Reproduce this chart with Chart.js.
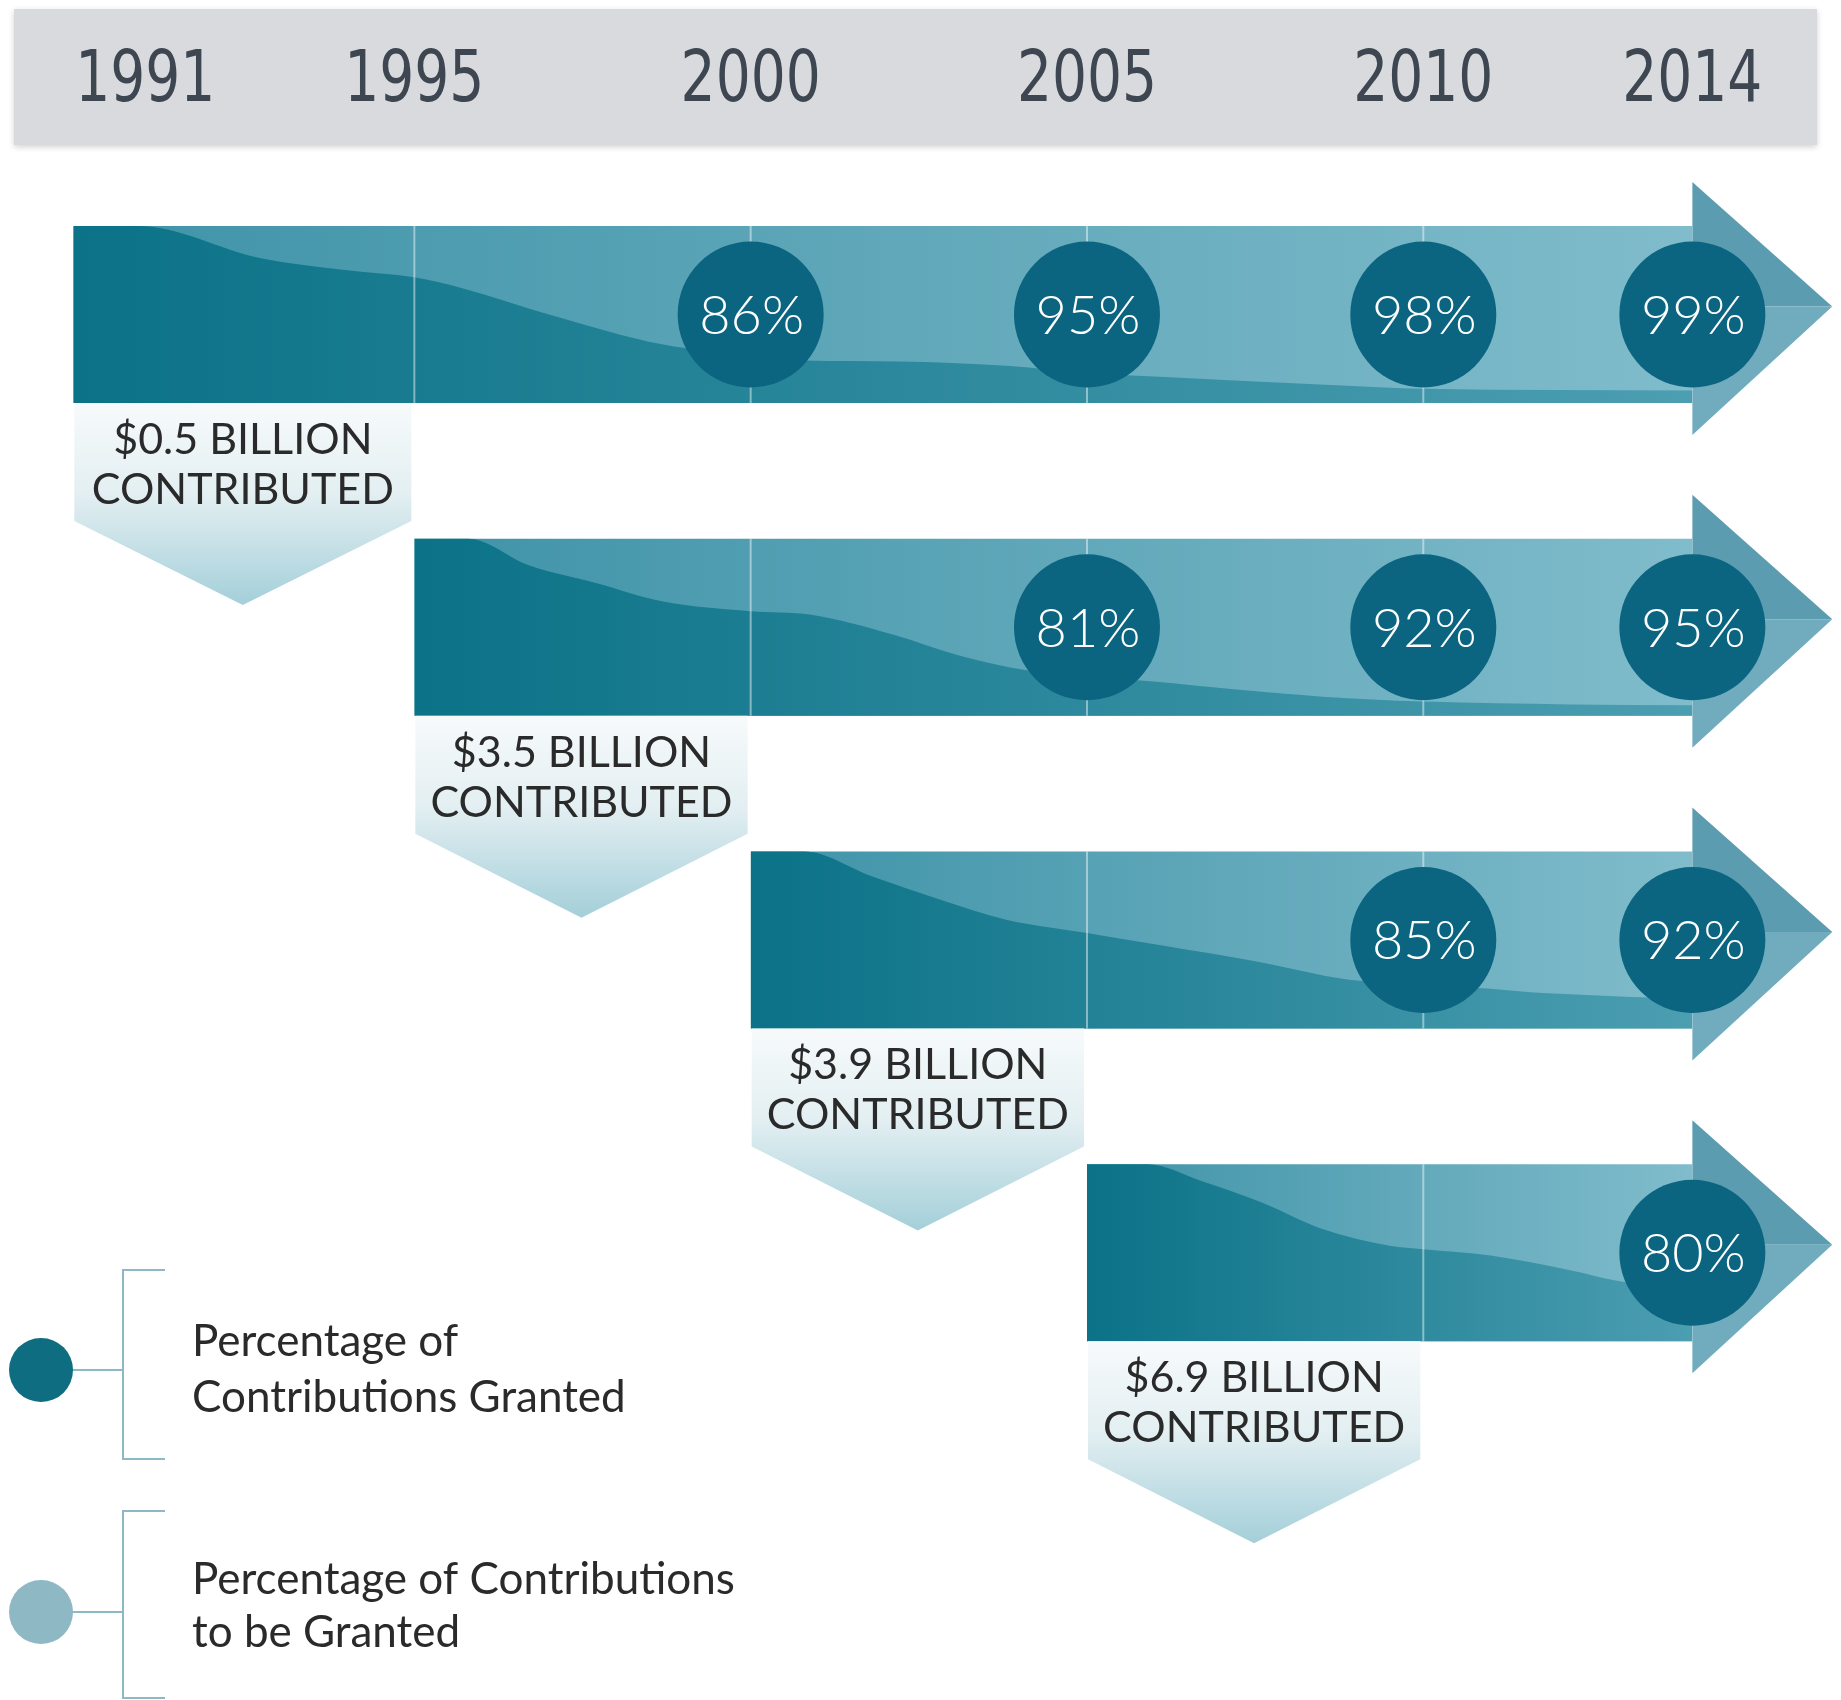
<!DOCTYPE html>
<html lang="en">
<head>
<meta charset="UTF-8">
<title>Contributions Granted by Cohort</title>
<script src="https://cdn.jsdelivr.net/npm/chart.js"></script>
<style>
  html, body { margin: 0; padding: 0; background: #ffffff; }
  canvas { display: block; }
</style>
</head>
<body>
<canvas id="grantChart" width="1841" height="1700"></canvas>
<script>
// timeline across the top
const yearTicks = [1991, 1995, 2000, 2005, 2010, 2014];
const gridYears = [1995, 2000, 2005, 2010];
const lastYear = 2014;

// one bar per contribution cohort
const cohortStart = [1989.93, 1995, 2000, 2005];
const labelEnd = [1995, 2000, 2005, 2010];
const contributed = ['$0.5 BILLION', '$3.5 BILLION', '$3.9 BILLION', '$6.9 BILLION'];

// dark band: share of the bar height still to be granted
const remainYears1991 = [1989.93, 1990.9, 1992.7, 1994.0, 1995, 1995.7, 1997.0, 1998.7, 2000, 2000.8, 2002.2, 2003.8, 2005, 2006, 2008.7, 2010, 2014];
const remain1991 = [100, 100, 82, 75, 71, 65, 50, 33, 27, 24, 23.5, 21, 17, 15, 10, 8, 7];
const remainYears1995 = [1995, 1995.8, 1996.7, 1997.7, 1998.7, 2000, 2000.9, 2002.1, 2003.1, 2003.9, 2005, 2005.9, 2007.3, 2008.5, 2010, 2012.2, 2014];
const remain1995 = [100, 100, 85, 75, 64.5, 59, 57, 46, 34, 27, 22, 19.6, 14.5, 10.8, 8, 6.4, 6];
const remainYears2000 = [2000, 2000.8, 2001.8, 2002.8, 2003.8, 2005, 2006.1, 2007.5, 2008.9, 2010, 2011, 2011.6, 2012.6, 2013.1, 2014];
const remain2000 = [100, 100, 86, 73, 61.5, 54, 47, 38, 27.6, 25, 22.4, 20.5, 18.7, 17.8, 17];
const remainYears2005 = [2005, 2005.9, 2006.7, 2007.6, 2008.5, 2009.5, 2010, 2011, 2012.2, 2012.9, 2014];
const remain2005 = [100, 100, 90.6, 78.4, 63.4, 54, 52, 48.4, 40, 34, 28];

// circles: percentage of contributions granted
const grantedYears = [2000, 2005, 2010, 2014];
const granted1991 = [86, 95, 98, 99];
const granted1995 = [null, 81, 92, 95];
const granted2000 = [null, null, 85, 92];
const granted2005 = [null, null, null, 80];

const remainYears = [remainYears1991, remainYears1995, remainYears2000, remainYears2005];
const remainShare = [remain1991, remain1995, remain2000, remain2005];
const grantedShare = [granted1991, granted1995, granted2000, granted2005];

// layout: y is measured in bar heights from the bottom of the canvas
const X_MIN = 1988.84, X_MAX = 2016.21;
const Y_MAX = 9.605;
const FIRST_BASE = 7.328;
const ROW_PITCH = 1.767;
const ARROW_TIP = 2016.08;
const rowBase = i => FIRST_BASE - i * ROW_PITCH;

const stripGradient = (chart, start, c0, c1) => {
    const x = chart.scales.x;
    if (!x || !chart.chartArea) return c0;
    const g = chart.ctx.createLinearGradient(x.getPixelForValue(start), 0, x.getPixelForValue(lastYear), 0);
    g.addColorStop(0, c0);
    g.addColorStop(1, c1);
    return g;
};

const circlePoints = [];
grantedShare.forEach((row, i) => {
    row.forEach((v, k) => {
        if (v !== null) circlePoints.push({ x: grantedYears[k], y: rowBase(i) + 0.5, pct: v });
    });
});

const datasets = [{
    type: 'scatter',
    data: circlePoints,
    pointRadius: 73,
    pointBackgroundColor: '#0b6480',
    pointBorderWidth: 0
}];

// dark "to be granted" band, drawn over the light bar
cohortStart.forEach((start, i) => {
    datasets.push({
        type: 'line',
        data: remainYears[i].map((yr, k) => ({ x: yr, y: rowBase(i) + remainShare[i][k] / 100 })),
        fill: { value: rowBase(i) },
        borderWidth: 0,
        pointRadius: 0,
        cubicInterpolationMode: 'monotone',
        backgroundColor: ctx => stripGradient(ctx.chart, start, '#0b7287', '#4c9eb1')
    });
});

// full light bar
cohortStart.forEach((start, i) => {
    datasets.push({
        type: 'line',
        data: [{ x: start, y: rowBase(i) + 1 }, { x: lastYear, y: rowBase(i) + 1 }],
        fill: { value: rowBase(i) },
        borderWidth: 0,
        pointRadius: 0,
        backgroundColor: ctx => stripGradient(ctx.chart, start, '#3f93a8', '#80bccb')
    });
});

const decor = {
    id: 'decor',
    beforeDatasetsDraw(chart) {
        const { ctx, scales: { x, y } } = chart;

        // header band with years
        ctx.save();
        ctx.shadowColor = 'rgba(0,0,0,0.18)';
        ctx.shadowBlur = 6;
        ctx.shadowOffsetY = 2;
        ctx.fillStyle = '#d9dadd';
        ctx.fillRect(14, 9, 1803, 136);
        ctx.restore();
        ctx.save();
        ctx.fillStyle = '#3d4651';
        ctx.font = '68px "DejaVu Sans Condensed", "Liberation Sans Narrow", sans-serif';
        ctx.textAlign = 'center';
        ctx.textBaseline = 'middle';
        yearTicks.forEach(yr => {
            ctx.save();
            ctx.translate(x.getPixelForValue(yr), 82);
            ctx.scale(0.9, 1.05);
            ctx.fillText(String(yr), 0, 0);
            ctx.restore();
        });
        ctx.restore();

        cohortStart.forEach((start, i) => {
            const top = y.getPixelForValue(rowBase(i) + 1);
            const bottom = y.getPixelForValue(rowBase(i));
            const baseX = x.getPixelForValue(lastYear);
            const tipX = x.getPixelForValue(ARROW_TIP);
            const tipY = (top + bottom) / 2 - 8;

            // arrow head, split in two tones
            ctx.save();
            ctx.fillStyle = '#5c9cb0';
            ctx.beginPath();
            ctx.moveTo(baseX, top - 44);
            ctx.lineTo(tipX, tipY);
            ctx.lineTo(baseX, tipY);
            ctx.closePath();
            ctx.fill();
            ctx.fillStyle = '#70acbe';
            ctx.beginPath();
            ctx.moveTo(baseX, tipY);
            ctx.lineTo(tipX, tipY);
            ctx.lineTo(baseX, bottom + 32);
            ctx.closePath();
            ctx.fill();

            // thin year dividers inside the bar
            ctx.strokeStyle = 'rgba(255,255,255,0.45)';
            ctx.lineWidth = 2;
            gridYears.filter(g => g > start + 0.5).forEach(g => {
                const gx = x.getPixelForValue(g);
                ctx.beginPath();
                ctx.moveTo(gx, top);
                ctx.lineTo(gx, bottom);
                ctx.stroke();
            });
            ctx.restore();

            // "contributed" tag under the bar
            const left = x.getPixelForValue(start) + 1;
            const right = x.getPixelForValue(labelEnd[i]) - 3;
            const mid = (left + right) / 2;
            ctx.save();
            const g = ctx.createLinearGradient(0, bottom, 0, bottom + 202);
            g.addColorStop(0, '#f7fafb');
            g.addColorStop(0.45, '#e3eff2');
            g.addColorStop(1, '#a4cfd9');
            ctx.fillStyle = g;
            ctx.beginPath();
            ctx.moveTo(left, bottom);
            ctx.lineTo(right, bottom);
            ctx.lineTo(right, bottom + 118);
            ctx.lineTo(mid, bottom + 202);
            ctx.lineTo(left, bottom + 118);
            ctx.closePath();
            ctx.fill();
            ctx.fillStyle = '#2a2a2a';
            ctx.font = '43px Lato, "Open Sans", sans-serif';
            ctx.textAlign = 'center';
            ctx.textBaseline = 'middle';
            ctx.fillText(contributed[i], mid, bottom + 37);
            ctx.fillText('CONTRIBUTED', mid, bottom + 87);
            ctx.restore();
        });
    },
    afterDatasetsDraw(chart) {
        const { ctx } = chart;
        const meta = chart.getDatasetMeta(0);
        ctx.save();
        ctx.fillStyle = '#ffffff';
        ctx.font = '300 54px Lato, "Open Sans", sans-serif';
        ctx.textAlign = 'center';
        ctx.textBaseline = 'middle';
        meta.data.forEach((pt, k) => ctx.fillText(circlePoints[k].pct + '%', pt.x + 1, pt.y + 2));
        ctx.restore();

        // legend
        ctx.save();
        ctx.strokeStyle = '#8cb9c4';
        ctx.lineWidth = 2;
        [[1370, 1270, 1459], [1612, 1511, 1698]].forEach(([cy, t, b]) => {
            ctx.beginPath();
            ctx.moveTo(165, t);
            ctx.lineTo(123, t);
            ctx.lineTo(123, b);
            ctx.lineTo(165, b);
            ctx.moveTo(60, cy);
            ctx.lineTo(123, cy);
            ctx.stroke();
        });
        ctx.fillStyle = '#0e6d80';
        ctx.beginPath();
        ctx.arc(41, 1370, 32, 0, Math.PI * 2);
        ctx.fill();
        ctx.fillStyle = '#8fb8c5';
        ctx.beginPath();
        ctx.arc(41, 1612, 32, 0, Math.PI * 2);
        ctx.fill();
        ctx.fillStyle = '#2a2a2a';
        ctx.font = '44px Lato, "Open Sans", sans-serif';
        ctx.textBaseline = 'middle';
        ctx.fillText('Percentage of', 192, 1342);
        ctx.fillText('Contributions Granted', 192, 1398);
        ctx.fillText('Percentage of Contributions', 192, 1580);
        ctx.fillText('to be Granted', 192, 1633);
        ctx.restore();
    }
};

new Chart(document.getElementById('grantChart'), {
    type: 'line',
    data: { datasets: datasets },
    options: {
        responsive: false,
        animation: false,
        events: [],
        layout: { padding: 0, autoPadding: false },
        scales: {
            x: { type: 'linear', min: X_MIN, max: X_MAX, display: false },
            y: { type: 'linear', min: 0, max: Y_MAX, display: false }
        },
        plugins: {
            legend: { display: false },
            tooltip: { enabled: false },
            filler: { drawTime: 'beforeDatasetsDraw' }
        }
    },
    plugins: [decor]
});
</script>
</body>
</html>
